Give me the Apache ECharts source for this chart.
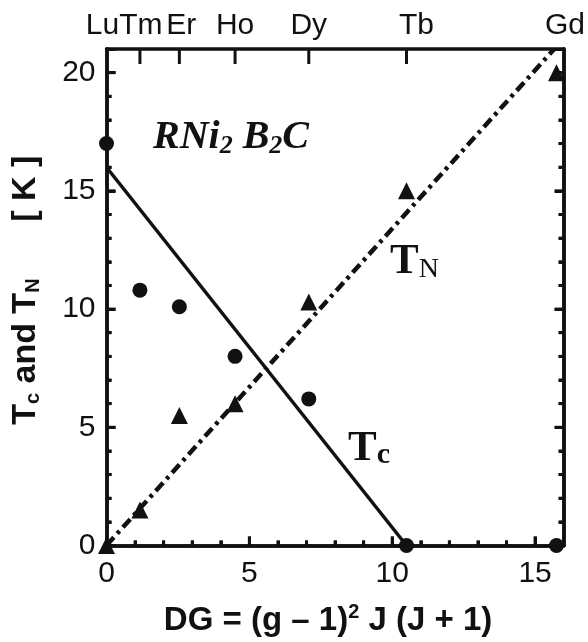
<!DOCTYPE html>
<html>
<head>
<meta charset="utf-8">
<script src="https://cdn.jsdelivr.net/npm/echarts@6/dist/echarts.min.js"></script>
<style>
  html, body { margin: 0; padding: 0; background: #fff; }
  #chart { width: 588px; height: 642px; }
</style>
</head>
<body>
<div id="chart"></div>
<script>
// Rare earth R in RNi2B2C and its de Gennes factor DG = (g-1)^2 J(J+1)
const elements = ['Lu', 'Tm', 'Er', 'Ho', 'Dy', 'Tb', 'Gd'];
const deGennes = [0, 1.17, 2.55, 4.5, 7.08, 10.5, 15.75];
// Superconducting transition temperature Tc [K]
const tcValues = [17.0, 10.8, 10.1, 8.0, 6.2, 0, 0];
// Magnetic ordering temperature TN [K]
const tnValues = [0, 1.5, 5.5, 6.0, 10.3, 15.0, 20.0];
// Straight guide lines through the two data sets
const tcGuide = [[0, 16], [10.5, 0]];
const tnGuide = [[0, 0], [15.67, 21]];
// Axis ranges and steps
const xRange = [0, 16];
const yRange = [0, 21];
const majorStep = 5;
const minorStep = 1;
// Element ticks on the top edge (Lu and Gd sit on the frame corners)
const topTicks = deGennes.slice(1, 6);

const INK = '#111';
const SANS = 'Liberation Sans, Arial, Helvetica, sans-serif';
const SERIF = 'Liberation Serif, Times New Roman, serif';
const AXIS_W = 3.5;
const TICK_W = 3;

const chart = echarts.init(document.getElementById('chart'));

function frameLine() {
  return { show: true, onZero: false, lineStyle: { color: INK, width: AXIS_W } };
}

function minorAxis(position, range) {
  return {
    type: 'value', position: position, min: range[0], max: range[1], interval: minorStep,
    axisLine: frameLine(),
    axisTick: { show: true, inside: true, length: 5, lineStyle: { color: INK, width: TICK_W } },
    axisLabel: { show: false },
    splitLine: { show: false }
  };
}
function majorAxis(position, range, withLabels) {
  return {
    type: 'value', position: position, min: range[0], max: range[1], interval: majorStep,
    axisLine: frameLine(),
    axisTick: { show: true, inside: true, length: 9, lineStyle: { color: INK, width: TICK_W } },
    axisLabel: withLabels
      ? {
          show: true, showMinLabel: true, showMaxLabel: true,
          color: INK, fontFamily: SANS, fontSize: 30, margin: position === 'bottom' ? 13 : 11,
          // the frame end (16, 21) is not a labelled step
          formatter: function (v) { return v % majorStep === 0 ? String(v) : ''; }
        }
      : { show: false },
    splitLine: { show: false }
  };
}

// Element names along the top edge, some nudged sideways so they do not collide
const topRich = {
  Lu: { padding: [0, 8, 0, 0] },
  Tm: { padding: [0, 0, 0, 2] },
  Er: { padding: [0, 0, 0, 4] },
  Ho: {}, Dy: {},
  Tb: { padding: [0, 0, 0, 20] },
  Gd: { padding: [0, 0, 0, 17] }
};

const xBottomMajor = majorAxis('bottom', xRange, true);
xBottomMajor.name = '{a|DG = (g \u2013 1)}{sup|2}{a| J (J + 1)}';
xBottomMajor.nameLocation = 'middle';
xBottomMajor.nameGap = 57;
xBottomMajor.nameTextStyle = {
  padding: [0, 14, 0, 0],
  rich: {
    a: { fontFamily: SANS, fontWeight: 'bold', fontSize: 33, lineHeight: 36, color: INK },
    sup: { fontFamily: SANS, fontWeight: 'bold', fontSize: 20, lineHeight: 15, verticalAlign: 'top', color: INK }
  }
};

const yLeftMajor = majorAxis('left', yRange, true);
yLeftMajor.name = '{a|T}{s|c}{a| and T}{s|N}{a|      [ K ]}';
yLeftMajor.nameLocation = 'middle';
yLeftMajor.nameGap = 63;
yLeftMajor.nameTextStyle = {
  padding: [0, 0, 0, 14],
  rich: {
    a: { fontFamily: SANS, fontWeight: 'bold', fontSize: 34, lineHeight: 36, color: INK },
    s: { fontFamily: SANS, fontWeight: 'bold', fontSize: 20, lineHeight: 22, verticalAlign: 'bottom', color: INK }
  }
};

// Text annotations inside the frame
const annotations = [
  {
    type: 'text', left: 153, top: 118, z: 10,
    style: {
      text: '{m|RNi}{s|2}{m| B}{s|2}{m|C}',
      rich: {
        m: { fontFamily: SERIF, fontStyle: 'italic', fontWeight: 'bold', fontSize: 40, lineHeight: 42, fill: INK },
        s: { fontFamily: SERIF, fontStyle: 'italic', fontWeight: 'bold', fontSize: 26, lineHeight: 22, verticalAlign: 'bottom', fill: INK }
      }
    }
  },
  {
    type: 'text', left: 390, top: 240, z: 10,
    style: {
      text: '{m|T}{s|N}',
      rich: {
        m: { fontFamily: SERIF, fontWeight: 'bold', fontSize: 43, lineHeight: 44, fill: INK },
        s: { fontFamily: SERIF, fontSize: 28, lineHeight: 20, verticalAlign: 'bottom', fill: INK }
      }
    }
  },
  {
    type: 'text', left: 348, top: 427, z: 10,
    style: {
      text: '{m|T}{s|c}',
      rich: {
        m: { fontFamily: SERIF, fontWeight: 'bold', fontSize: 43, lineHeight: 44, fill: INK },
        s: { fontFamily: SERIF, fontWeight: 'bold', fontSize: 30, lineHeight: 26, verticalAlign: 'bottom', fill: INK }
      }
    }
  }
];

const option = {
  animation: false,
  grid: { left: 106.5, right: 17.5, top: 49, bottom: 94 },
  xAxis: [
    minorAxis('bottom', xRange),
    xBottomMajor,
    // top edge: element names
    {
      type: 'value', position: 'top', min: xRange[0], max: xRange[1],
      axisLine: frameLine(),
      axisTick: { show: false },
      axisLabel: {
        show: true, customValues: deGennes, showMinLabel: true, showMaxLabel: true, margin: 8,
        color: INK, fontFamily: SANS, fontSize: 30,
        formatter: function (v) {
          const i = deGennes.indexOf(v);
          return i < 0 ? '' : '{' + elements[i] + '|' + elements[i] + '}';
        },
        rich: topRich
      },
      splitLine: { show: false }
    }
  ],
  yAxis: [
    yLeftMajor,
    minorAxis('left', yRange),
    minorAxis('right', yRange),
    majorAxis('right', yRange, false)
  ],
  series: [
    {
      name: 'Tc guide', type: 'line', xAxisIndex: 0, yAxisIndex: 0,
      data: tcGuide, symbol: 'none', z: 3,
      lineStyle: { color: INK, width: 3.5 }
    },
    {
      name: 'TN guide', type: 'line', xAxisIndex: 0, yAxisIndex: 0,
      data: tnGuide, symbol: 'none', z: 3,
      lineStyle: { color: INK, width: 4.5, type: [11, 5, 3.5, 5], cap: 'butt' }
    },
    {
      name: 'Tc', type: 'scatter', xAxisIndex: 0, yAxisIndex: 0, clip: false, z: 5,
      data: deGennes.map(function (x, i) { return [x, tcValues[i]]; }),
      symbol: 'circle', symbolSize: 15, itemStyle: { color: INK, opacity: 1 }
    },
    {
      name: 'TN', type: 'scatter', xAxisIndex: 0, yAxisIndex: 0, clip: false, z: 5,
      data: deGennes.map(function (x, i) { return [x, tnValues[i]]; }),
      symbol: 'triangle', symbolSize: 17, itemStyle: { color: INK, opacity: 1 }
    }
  ],
  graphic: annotations
};

chart.setOption(option);

// Inward tick marks on all four edges, placed through the grid's own scales
const tickMarks = [];
function tickSegment(value, dx, dy) {
  const p = chart.convertToPixel({ gridIndex: 0 }, value);
  tickMarks.push({
    type: 'line', silent: true, z: 4,
    shape: { x1: p[0], y1: p[1], x2: p[0] + dx, y2: p[1] + dy },
    style: { stroke: INK, lineWidth: TICK_W }
  });
}
for (let i = xRange[0] + minorStep; i < xRange[1]; i += minorStep) {
  const len = i % majorStep === 0 ? 9 : 5;
  tickSegment([i, yRange[0]], 0, -len);
}
for (let j = yRange[0] + minorStep; j < yRange[1]; j += minorStep) {
  const len = j % majorStep === 0 ? 9 : 5;
  tickSegment([xRange[0], j], len, 0);
  tickSegment([xRange[1], j], -len, 0);
}
topTicks.forEach(function (x) { tickSegment([x, yRange[1]], 0, 15); });

chart.setOption({ graphic: annotations.concat(tickMarks) });
</script>
</body>
</html>
